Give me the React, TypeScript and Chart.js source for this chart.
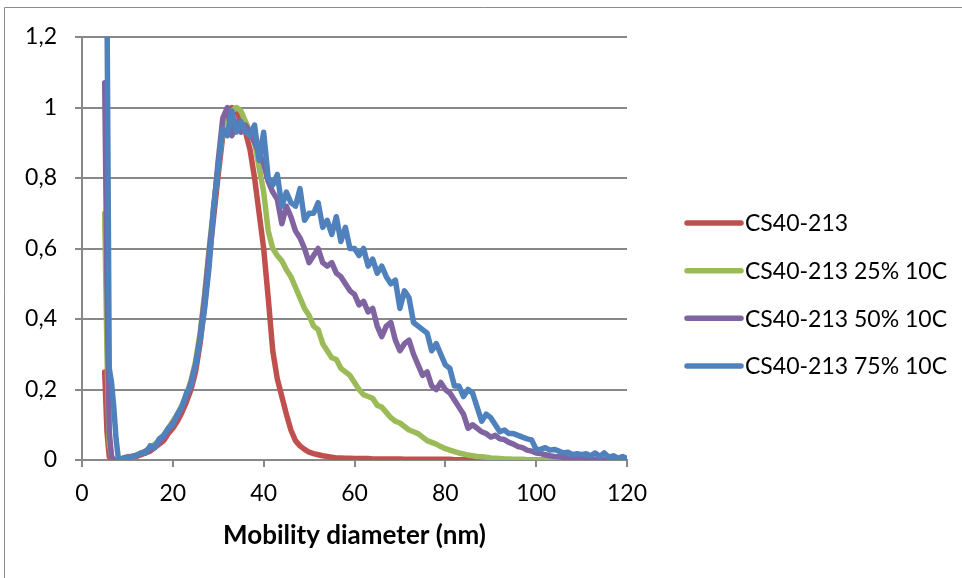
import { useEffect, useRef } from "react";
import { Chart, registerables } from "chart.js";

Chart.register(...registerables);

// Mobility diameter (nm) sampling grid
const xValues = [
  5, 5.5, 6, 6.5, 7, 7.5, 8,
  9, 10, 11, 12, 13, 14, 15, 16, 17, 18,
  19, 20, 21, 22, 23, 24, 25, 26, 27, 28,
  29, 30, 31, 32, 33, 34, 35, 36, 37, 38,
  39, 40, 41, 42, 43, 44, 45, 46, 47, 48,
  49, 50, 51, 52, 53, 54, 55, 56, 57, 58,
  59, 60, 61, 62, 63, 64, 65, 66, 67, 68,
  69, 70, 71, 72, 73, 74, 75, 76, 77, 78,
  79, 80, 81, 82, 83, 84, 85, 86, 87, 88,
  89, 90, 91, 92, 93, 94, 95, 96, 97, 98,
  99, 100, 101, 102, 103, 104, 105, 106, 107, 108,
  109, 110, 111, 112, 113, 114, 115, 116, 117, 118,
  119, 120,
];

const seriesNames = [
  "CS40-213",
  "CS40-213 25% 10C",
  "CS40-213 50% 10C",
  "CS40-213 75% 10C",
];

const cs40 = [
  0.25, 0.08, 0.01, 0, 0, 0, 0,
  0.005, 0.005, 0.01, 0.01, 0.015, 0.02, 0.025, 0.035, 0.045, 0.055,
  0.075, 0.09, 0.11, 0.135, 0.165, 0.2, 0.25, 0.33, 0.44, 0.57,
  0.69, 0.81, 0.92, 0.99, 1.0, 0.99, 0.96, 0.93, 0.88, 0.8,
  0.7, 0.6, 0.46, 0.31, 0.23, 0.18, 0.13, 0.085, 0.055, 0.04,
  0.03, 0.022, 0.018, 0.015, 0.012, 0.01, 0.008, 0.006, 0.006, 0.005,
  0.005, 0.004, 0.004, 0.004, 0.004, 0.003, 0.003, 0.003, 0.003, 0.003,
  0.003, 0.003, 0.002, 0.002, 0.002, 0.002, 0.002, 0.002, 0.002, 0.002,
  0.002, 0.002, 0.002, 0.001, 0.001, 0.001, 0.001, 0.001, 0, 0,
  0, 0, 0, 0, 0, 0, 0, 0, 0, 0,
  0, 0, 0, 0, 0, 0, 0, 0, 0, 0,
  0, 0, 0, 0, 0, 0, 0, 0, 0, 0,
  0, 0,
];

const cs40_25 = [
  0.7, 0.3, 0.05, 0.01, 0, 0, 0,
  0.005, 0.01, 0.01, 0.015, 0.02, 0.025, 0.035, 0.045, 0.055, 0.07,
  0.09, 0.11, 0.13, 0.155, 0.185, 0.225, 0.28, 0.36, 0.47, 0.6,
  0.72, 0.84, 0.93, 0.97, 0.99, 1.0, 0.99, 0.96, 0.93, 0.9,
  0.83, 0.76, 0.65, 0.6, 0.58, 0.565, 0.54, 0.52, 0.49, 0.46,
  0.43, 0.41, 0.38, 0.37, 0.33, 0.31, 0.29, 0.285, 0.26, 0.25,
  0.24, 0.22, 0.2, 0.185, 0.18, 0.175, 0.155, 0.15, 0.135, 0.12,
  0.11, 0.105, 0.095, 0.085, 0.08, 0.075, 0.065, 0.055, 0.05, 0.045,
  0.038, 0.032, 0.028, 0.024, 0.02, 0.017, 0.014, 0.012, 0.01, 0.009,
  0.008, 0.006, 0.005, 0.004, 0.003, 0.003, 0.002, 0.002, 0.002, 0.001,
  0.001, 0.001, 0.001, 0, 0, 0, 0, 0, 0, 0,
  0, 0, 0, 0, 0, 0, 0, 0, 0, 0,
  0, 0,
];

const cs40_50 = [
  1.07, 0.5, 0.08, 0.01, 0, 0, 0,
  0.005, 0.008, 0.01, 0.013, 0.018, 0.025, 0.03, 0.04, 0.05, 0.065,
  0.085, 0.105, 0.125, 0.15, 0.18, 0.22, 0.27, 0.35, 0.46, 0.59,
  0.71, 0.85, 0.97, 1.0, 0.92, 0.96, 0.93, 0.95, 0.93, 0.9,
  0.87, 0.84, 0.79, 0.76, 0.74, 0.67, 0.72, 0.69, 0.65, 0.63,
  0.6, 0.56, 0.58, 0.6, 0.56, 0.55, 0.56, 0.53, 0.52, 0.5,
  0.48, 0.47, 0.44, 0.45, 0.42, 0.43, 0.38, 0.35, 0.38, 0.39,
  0.34, 0.31, 0.33, 0.34, 0.3, 0.27, 0.24, 0.25, 0.21, 0.2,
  0.22, 0.2, 0.19, 0.17, 0.15, 0.13, 0.09, 0.1, 0.09, 0.08,
  0.075, 0.065, 0.07, 0.06, 0.058, 0.05, 0.045, 0.038, 0.035, 0.028,
  0.025, 0.02, 0.018, 0.015, 0.012, 0.01, 0.009, 0.008, 0.006, 0.005,
  0.004, 0.004, 0.003, 0.002, 0.002, 0.001, 0, 0, 0, 0,
  0, 0,
];

const cs40_75 = [
  1.3, 1.3, 0.26, 0.22, 0.15, 0.06, 0.005,
  0.003, 0.005, 0.01, 0.012, 0.02, 0.02, 0.04, 0.035, 0.06, 0.07,
  0.09, 0.1, 0.13, 0.15, 0.19, 0.21, 0.27, 0.34, 0.43, 0.55,
  0.72, 0.83, 0.94, 0.92, 0.99, 0.93, 0.96, 0.93, 0.92, 0.95,
  0.85, 0.93, 0.8, 0.78, 0.81, 0.72, 0.76, 0.73, 0.72, 0.77,
  0.68, 0.7, 0.7, 0.73, 0.66, 0.68, 0.64, 0.69, 0.62, 0.66,
  0.6, 0.6, 0.58, 0.6, 0.55, 0.57, 0.53, 0.55, 0.52, 0.5,
  0.51, 0.43, 0.48, 0.46, 0.39, 0.38, 0.37, 0.36, 0.31, 0.33,
  0.3, 0.27, 0.26, 0.21, 0.21, 0.18, 0.2, 0.19, 0.15, 0.11,
  0.13, 0.12, 0.1, 0.08, 0.085, 0.075, 0.075, 0.07, 0.065, 0.06,
  0.057, 0.03, 0.03, 0.035, 0.028, 0.03, 0.025, 0.02, 0.022, 0.015,
  0.018, 0.015, 0.018, 0.012, 0.02, 0.01, 0.02, 0.008, 0.012, 0.005,
  0.01, 0.004,
];

const seriesColors = ["#C0504D", "#9BBB59", "#8064A2", "#4F81BD"];
const xTitle = "Mobility diameter (nm)";
const FONT = "Lato";
const LINE_W = 5.5;

export default function App() {
  const ref = useRef<HTMLCanvasElement>(null);

  useEffect(() => {
    const canvas = ref.current;
    if (!canvas) return;
    const series = [cs40, cs40_25, cs40_50, cs40_75];
    const datasets = series.map((s, i) => ({
      label: seriesNames[i],
      data: s.map((y, j) => ({ x: xValues[j], y })),
      borderColor: seriesColors[i],
      backgroundColor: seriesColors[i],
      borderWidth: LINE_W,
      pointRadius: 0,
      pointHoverRadius: 0,
      tension: 0,
      fill: false,
      borderJoinStyle: "round" as const,
      borderCapStyle: "round" as const,
      order: 3 - i,
    }));

    const framePlugin = {
      id: "frame",
      beforeDraw(chart: any) {
        const ctx = chart.ctx;
        ctx.save();
        ctx.strokeStyle = "#8c8c8c";
        ctx.lineWidth = 1;
        ctx.beginPath();
        ctx.moveTo(4.5, chart.height);
        ctx.lineTo(4.5, 7.5);
        ctx.lineTo(chart.width, 7.5);
        ctx.stroke();
        ctx.restore();
      },
    };

    const legendPlugin = {
      id: "sideLegend",
      afterDraw(chart: any) {
        const { ctx, chartArea } = chart;
        const gap = 47.7;
        const y0 = chart.height / 2 + 5.5 - 1.5 * gap;
        const lx0 = chartArea.right + 60;
        const lx1 = chartArea.right + 114;
        const tx = chartArea.right + 118;
        ctx.save();
        chart.data.datasets.forEach((ds: any, i: number) => {
          const y = y0 + i * gap;
          ctx.strokeStyle = ds.borderColor;
          ctx.lineWidth = LINE_W;
          ctx.lineCap = "round";
          ctx.beginPath();
          ctx.moveTo(lx0, y);
          ctx.lineTo(lx1, y);
          ctx.stroke();
          ctx.fillStyle = "#000";
          ctx.font = `23px ${FONT}`;
          ctx.textAlign = "left";
          ctx.textBaseline = "middle";
          ctx.fillText(ds.label, tx, y + 1);
        });
        ctx.restore();
      },
    };

    const chart = new Chart(canvas, {
      type: "line",
      data: { datasets },
      options: {
        animation: false,
        responsive: false,
        maintainAspectRatio: false,
        devicePixelRatio: 1,
        layout: { padding: { top: 37, right: 335, bottom: 0, left: 0 } },
        plugins: {
          legend: { display: false },
          tooltip: { enabled: false },
        },
        scales: {
          x: {
            type: "linear",
            min: 0,
            max: 120,
            ticks: {
              stepSize: 20,
              color: "#000",
              padding: 13,
              font: { family: FONT, size: 23 },
              maxRotation: 0,
            },
            grid: {
              drawOnChartArea: false,
              drawTicks: true,
              tickLength: 7,
              color: "#888888",
              lineWidth: 2,
            },
            border: { display: true, color: "#888888", width: 2 },
            title: {
              display: true,
              text: xTitle,
              color: "#000",
              font: { family: FONT, size: 26, weight: "bold" },
              padding: { top: 0, bottom: 27 },
            },
            afterFit(scale: any) {
              scale.height = 118;
            },
          },
          y: {
            min: 0,
            max: 1.2,
            ticks: {
              stepSize: 0.2,
              color: "#000",
              padding: 18,
              font: { family: FONT, size: 23 },
              callback: (v: any) => String(Math.round(Number(v) * 10) / 10).replace(".", ","),
            },
            grid: {
              drawOnChartArea: true,
              drawTicks: true,
              tickLength: 7,
              color: "#888888",
              lineWidth: 2,
            },
            border: { display: true, color: "#888888", width: 2 },
            afterFit(scale: any) {
              scale.width = 82;
            },
          },
        },
      },
      plugins: [framePlugin, legendPlugin],
    } as any);

    return () => chart.destroy();
  }, []);

  return (
    <div
      style={{
        position: "fixed",
        left: 0,
        top: 0,
        width: 962,
        height: 578,
        background: "#fff",
      }}
    >
      <canvas ref={ref} width={962} height={578} style={{ display: "block" }} />
    </div>
  );
}
